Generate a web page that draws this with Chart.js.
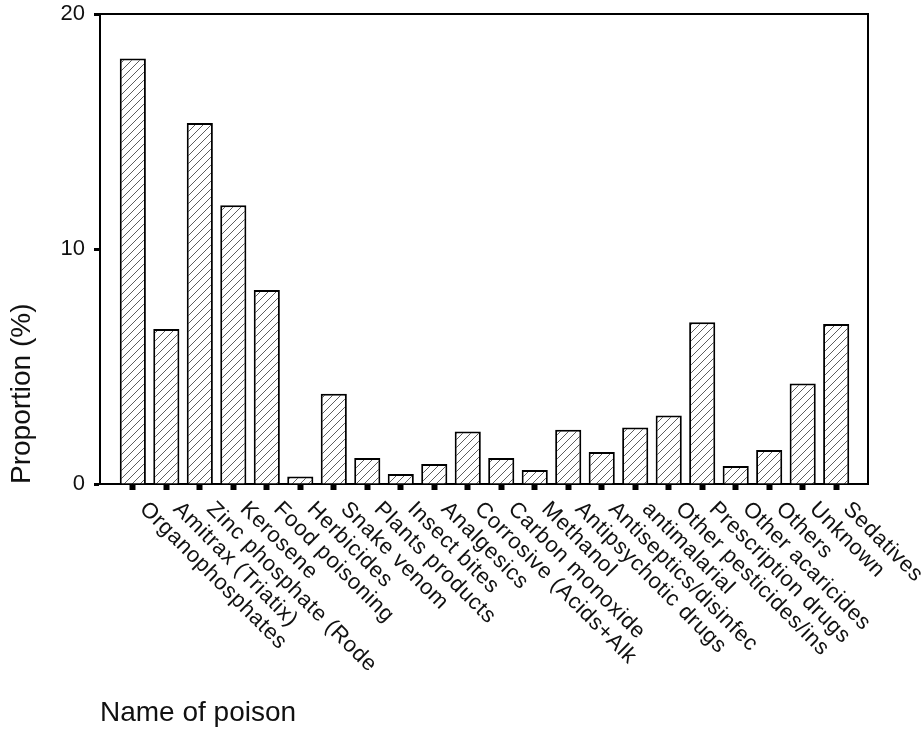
<!DOCTYPE html>
<html>
<head>
<meta charset="utf-8">
<script src="https://cdn.jsdelivr.net/npm/chart.js@4/dist/chart.umd.min.js"></script>
<style>
  html, body { margin: 0; padding: 0; background: #fff; }
  #wrap { width: 922px; height: 733px; }
</style>
</head>
<body>
<div id="wrap"><canvas id="poisonChart" width="922" height="733"></canvas></div>
<script>
// Proportion of poisoning cases by poison name (%)
const poisonNames = [
  'Organophosphates', 'Amitrax (Triatix)', 'Zinc phosphate (Rode', 'Kerosene',
  'Food poisoning', 'Herbicides', 'Snake venom', 'Plants products', 'Insect bites',
  'Analgesics', 'Corrosive (Acids+Alk', 'Carbon monoxide', 'Methanol',
  'Antipsychotic drugs', 'Antiseptics/disinfec', 'antimalarial',
  'Other pesticides/ins', 'Prescription drugs', 'Other acaricides', 'Others',
  'Unknown', 'Sedatives'
];
const proportions = [
  18.11, 6.60, 15.36, 11.86, 8.26, 0.32, 3.84, 1.11, 0.43, 0.85, 2.23,
  1.11, 0.60, 2.31, 1.36, 2.40, 2.91, 6.88, 0.77, 1.45, 4.28, 6.81
];
const yTicks = [0, 10, 20];

const FONT = '"Liberation Sans", Arial, Helvetica, sans-serif';

const canvas = document.getElementById('poisonChart');
const ctx = canvas.getContext('2d');

// diagonal hatch fill like the original print
function makeHatch() {
  const size = 8;
  const tile = document.createElement('canvas');
  tile.width = size;
  tile.height = size;
  const g = tile.getContext('2d');
  g.fillStyle = '#fff';
  g.fillRect(0, 0, size, size);
  g.strokeStyle = '#333';
  g.lineWidth = 0.8;
  g.beginPath();
  g.moveTo(0, size); g.lineTo(size, 0);
  g.moveTo(-1, 1); g.lineTo(1, -1);
  g.moveTo(size - 1, size + 1); g.lineTo(size + 1, size - 1);
  g.stroke();
  return ctx.createPattern(tile, 'repeat');
}

// top/right frame and the slanted category labels
const framePlugin = {
  id: 'frameAndLabels',
  afterDraw(chart) {
    const { ctx, chartArea: a, scales: { x } } = chart;
    ctx.save();
    ctx.strokeStyle = '#000';
    ctx.lineWidth = 2;
    ctx.beginPath();
    ctx.moveTo(a.left, a.top);
    ctx.lineTo(a.right, a.top);
    ctx.lineTo(a.right, a.bottom);
    ctx.stroke();

    ctx.font = '22px ' + FONT;
    ctx.fillStyle = '#111';
    ctx.textAlign = 'left';
    ctx.textBaseline = 'alphabetic';
    if ('letterSpacing' in ctx) ctx.letterSpacing = '0.7px';
    poisonNames.forEach((name, i) => {
      const px = x.getPixelForValue(i);
      ctx.save();
      ctx.translate(px + 6, x.top + 26);
      ctx.rotate(Math.PI / 4);
      ctx.fillText(name, 0, 0);
      ctx.restore();
    });
    ctx.restore();
  }
};

new Chart(ctx, {
  type: 'bar',
  data: {
    datasets: [{
      label: 'Proportion (%)',
      data: proportions.map((v, i) => ({ x: i, y: v })),
      backgroundColor: makeHatch(),
      borderColor: '#000',
      borderWidth: 2,
      borderSkipped: 'start',
      barPercentage: 0.78,
      categoryPercentage: 1
    }]
  },
  options: {
    responsive: false,
    animation: false,
    devicePixelRatio: 1,
    layout: { padding: { top: 14, right: 54, bottom: 1, left: 0 } },
    plugins: {
      legend: { display: false },
      tooltip: { enabled: false }
    },
    scales: {
      x: {
        type: 'linear',
        min: -0.98,
        max: 21.95,
        offset: false,
        afterBuildTicks: (scale) => {
          scale.ticks = poisonNames.map((_, i) => ({ value: i }));
        },
        afterFit: (scale) => { scale.height = 248; },
        ticks: { display: false },
        grid: {
          offset: false,
          drawOnChartArea: false,
          drawTicks: true,
          tickLength: 6,
          tickWidth: 6,
          color: '#000'
        },
        border: { display: true, color: '#000', width: 2 },
        title: {
          display: true,
          text: 'Name of poison',
          align: 'start',
          color: '#111',
          font: { family: FONT, size: 28 },
          padding: { top: 0, bottom: 2 }
        }
      },
      y: {
        min: 0,
        max: 20,
        afterBuildTicks: (scale) => {
          scale.ticks = yTicks.map(v => ({ value: v }));
        },
        afterFit: (scale) => {
          scale.width = 100;
          scale.paddingTop = 0;
          scale.paddingBottom = 0;
        },
        ticks: {
          color: '#111',
          padding: 9,
          font: { family: FONT, size: 22 }
        },
        grid: {
          drawOnChartArea: false,
          drawTicks: true,
          tickLength: 6,
          tickWidth: 3,
          color: '#000'
        },
        border: { display: true, color: '#000', width: 2 },
        title: {
          display: true,
          text: 'Proportion (%)',
          align: 'start',
          color: '#111',
          font: { family: FONT, size: 28 },
          padding: { top: 5, bottom: 0 }
        }
      }
    }
  },
  plugins: [framePlugin]
});
</script>
</body>
</html>
